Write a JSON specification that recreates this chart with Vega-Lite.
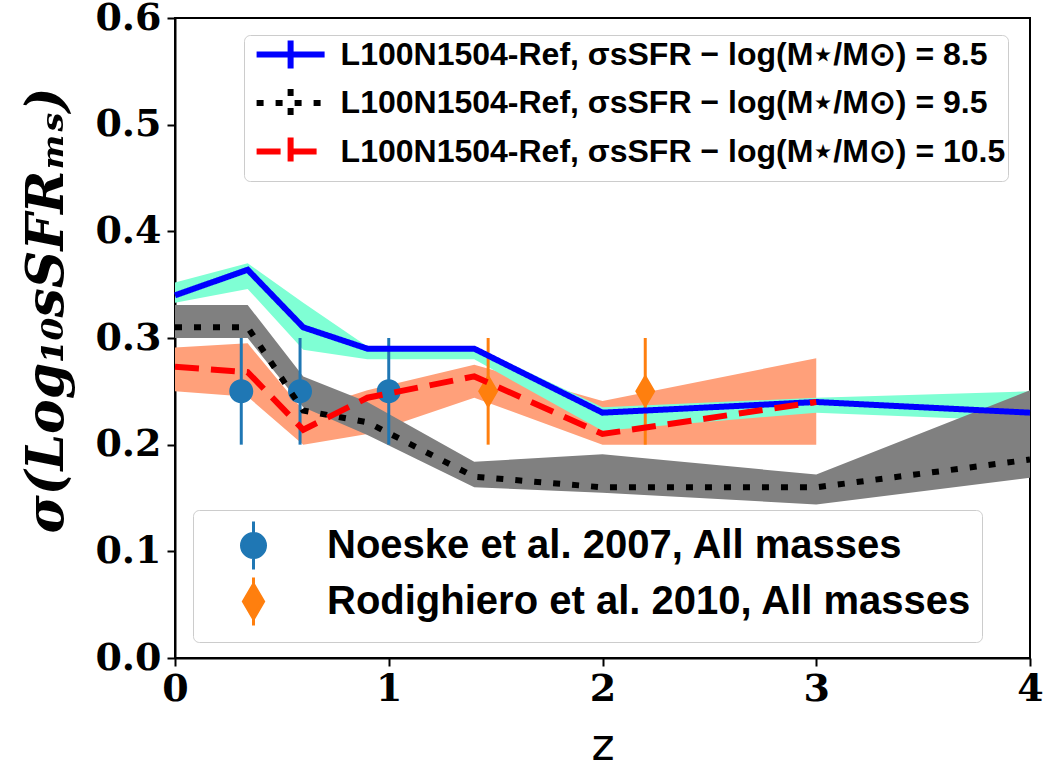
{
  "$schema": "https://vega.github.io/schema/vega-lite/v6.json",
  "width": 855,
  "height": 640,
  "autosize": {"type": "none"},
  "padding": {"left": 175, "top": 18, "right": 16, "bottom": 117},
  "background": "white",
  "config": {
    "view": {"stroke": "black", "strokeWidth": 2},
    "axis": {
      "grid": false,
      "domainColor": "black",
      "domainWidth": 2,
      "tickColor": "black",
      "tickWidth": 2,
      "tickSize": 8,
      "labelFlush": false,
      "labelFont": "DejaVu Serif",
      "labelFontWeight": "bold",
      "labelFontSize": 38,
      "labelColor": "black",
      "titleColor": "black"
    }
  },
  "datasets": {
    "bands": [
      {"band": "cyan", "z": 0.0, "lo": 0.333, "hi": 0.352},
      {"band": "cyan", "z": 0.34, "lo": 0.346, "hi": 0.37},
      {"band": "cyan", "z": 0.6, "lo": 0.289, "hi": 0.333},
      {"band": "cyan", "z": 0.9, "lo": 0.28, "hi": 0.292},
      {"band": "cyan", "z": 1.4, "lo": 0.28, "hi": 0.292},
      {"band": "cyan", "z": 2.0, "lo": 0.213, "hi": 0.235},
      {"band": "cyan", "z": 3.0, "lo": 0.23, "hi": 0.244},
      {"band": "cyan", "z": 4.0, "lo": 0.222, "hi": 0.25},
      {"band": "grey", "z": 0.0, "lo": 0.30, "hi": 0.331},
      {"band": "grey", "z": 0.34, "lo": 0.30, "hi": 0.331},
      {"band": "grey", "z": 0.6, "lo": 0.235, "hi": 0.264},
      {"band": "grey", "z": 0.9, "lo": 0.209, "hi": 0.24},
      {"band": "grey", "z": 1.4, "lo": 0.16, "hi": 0.184},
      {"band": "grey", "z": 2.0, "lo": 0.155, "hi": 0.191},
      {"band": "grey", "z": 3.0, "lo": 0.144, "hi": 0.172},
      {"band": "grey", "z": 4.0, "lo": 0.169, "hi": 0.251},
      {"band": "salmon", "z": 0.0, "lo": 0.25, "hi": 0.291},
      {"band": "salmon", "z": 0.34, "lo": 0.245, "hi": 0.295},
      {"band": "salmon", "z": 0.6, "lo": 0.2, "hi": 0.232},
      {"band": "salmon", "z": 0.9, "lo": 0.21, "hi": 0.251},
      {"band": "salmon", "z": 1.4, "lo": 0.244, "hi": 0.275},
      {"band": "salmon", "z": 2.0, "lo": 0.2, "hi": 0.241},
      {"band": "salmon", "z": 3.0, "lo": 0.2, "hi": 0.281}
    ],
    "lines": [
      {"series": "L100N1504-Ref, σsSFR − log(M⋆/M⊙) = 8.5", "z": 0.0, "s": 0.34},
      {"series": "L100N1504-Ref, σsSFR − log(M⋆/M⊙) = 8.5", "z": 0.34, "s": 0.364},
      {"series": "L100N1504-Ref, σsSFR − log(M⋆/M⊙) = 8.5", "z": 0.6, "s": 0.31},
      {"series": "L100N1504-Ref, σsSFR − log(M⋆/M⊙) = 8.5", "z": 0.9, "s": 0.29},
      {"series": "L100N1504-Ref, σsSFR − log(M⋆/M⊙) = 8.5", "z": 1.4, "s": 0.29},
      {"series": "L100N1504-Ref, σsSFR − log(M⋆/M⊙) = 8.5", "z": 2.0, "s": 0.23},
      {"series": "L100N1504-Ref, σsSFR − log(M⋆/M⊙) = 8.5", "z": 3.0, "s": 0.24},
      {"series": "L100N1504-Ref, σsSFR − log(M⋆/M⊙) = 8.5", "z": 4.0, "s": 0.23},
      {"series": "L100N1504-Ref, σsSFR − log(M⋆/M⊙) = 9.5", "z": 0.0, "s": 0.31},
      {"series": "L100N1504-Ref, σsSFR − log(M⋆/M⊙) = 9.5", "z": 0.34, "s": 0.31},
      {"series": "L100N1504-Ref, σsSFR − log(M⋆/M⊙) = 9.5", "z": 0.6, "s": 0.232},
      {"series": "L100N1504-Ref, σsSFR − log(M⋆/M⊙) = 9.5", "z": 0.9, "s": 0.221},
      {"series": "L100N1504-Ref, σsSFR − log(M⋆/M⊙) = 9.5", "z": 1.4, "s": 0.17},
      {"series": "L100N1504-Ref, σsSFR − log(M⋆/M⊙) = 9.5", "z": 2.0, "s": 0.16},
      {"series": "L100N1504-Ref, σsSFR − log(M⋆/M⊙) = 9.5", "z": 3.0, "s": 0.16},
      {"series": "L100N1504-Ref, σsSFR − log(M⋆/M⊙) = 9.5", "z": 4.0, "s": 0.186},
      {"series": "L100N1504-Ref, σsSFR − log(M⋆/M⊙) = 10.5", "z": 0.0, "s": 0.273},
      {"series": "L100N1504-Ref, σsSFR − log(M⋆/M⊙) = 10.5", "z": 0.34, "s": 0.268},
      {"series": "L100N1504-Ref, σsSFR − log(M⋆/M⊙) = 10.5", "z": 0.6, "s": 0.214},
      {"series": "L100N1504-Ref, σsSFR − log(M⋆/M⊙) = 10.5", "z": 0.9, "s": 0.244},
      {"series": "L100N1504-Ref, σsSFR − log(M⋆/M⊙) = 10.5", "z": 1.4, "s": 0.264},
      {"series": "L100N1504-Ref, σsSFR − log(M⋆/M⊙) = 10.5", "z": 2.0, "s": 0.21},
      {"series": "L100N1504-Ref, σsSFR − log(M⋆/M⊙) = 10.5", "z": 3.0, "s": 0.24}
    ],
    "obs": [
      {"source": "Noeske et al. 2007, All masses", "z": 0.31, "s": 0.25, "lo": 0.2, "hi": 0.3},
      {"source": "Noeske et al. 2007, All masses", "z": 0.585, "s": 0.25, "lo": 0.2, "hi": 0.3},
      {"source": "Noeske et al. 2007, All masses", "z": 1.0, "s": 0.25, "lo": 0.2, "hi": 0.3},
      {"source": "Rodighiero et al. 2010, All masses", "z": 1.465, "s": 0.25, "lo": 0.2, "hi": 0.3},
      {"source": "Rodighiero et al. 2010, All masses", "z": 2.2, "s": 0.25, "lo": 0.2, "hi": 0.3}
    ]
  },
  "layer": [
    {
      "data": {"name": "bands"},
      "transform": [{"filter": "datum.band === 'salmon'"}],
      "mark": {"type": "area", "color": "#ffa07a", "opacity": 1},
      "encoding": {
        "x": {"field": "z", "type": "quantitative", "scale": {"domain": [0, 4], "nice": false}, "axis": {"values": [0, 1, 2, 3, 4], "format": "d", "title": "z", "titleFont": "DejaVu Sans", "titleFontSize": 44, "titleFontWeight": "normal", "labelPadding": 4, "titlePadding": 16}},
        "y": {"field": "lo", "type": "quantitative", "scale": {"domain": [0, 0.6], "nice": false, "zero": false}, "axis": {"values": [0, 0.1, 0.2, 0.3, 0.4, 0.5, 0.6], "format": ".1f", "title": "σ(Log₁₀sSFRₘₛ)", "titleFont": "DejaVu Serif", "titleFontSize": 52, "titleFontWeight": "bold", "titleFontStyle": "italic", "titleY": 292, "labelPadding": 6, "titlePadding": 21}},
        "y2": {"field": "hi"}
      }
    },
    {
      "data": {"name": "bands"},
      "transform": [{"filter": "datum.band === 'cyan'"}],
      "mark": {"type": "area", "color": "#7fffd4", "opacity": 1},
      "encoding": {
        "x": {"field": "z", "type": "quantitative"},
        "y": {"field": "lo", "type": "quantitative"},
        "y2": {"field": "hi"}
      }
    },
    {
      "data": {"name": "bands"},
      "transform": [{"filter": "datum.band === 'grey'"}],
      "mark": {"type": "area", "color": "#808080", "opacity": 1},
      "encoding": {
        "x": {"field": "z", "type": "quantitative"},
        "y": {"field": "lo", "type": "quantitative"},
        "y2": {"field": "hi"}
      }
    },
    {
      "data": {"name": "obs"},
      "transform": [{"filter": "datum.source === 'Noeske et al. 2007, All masses'"}],
      "mark": {"type": "rule", "color": "#1f77b4", "strokeWidth": 3},
      "encoding": {
        "x": {"field": "z", "type": "quantitative"},
        "y": {"field": "lo", "type": "quantitative"},
        "y2": {"field": "hi"}
      }
    },
    {
      "data": {"name": "obs"},
      "transform": [{"filter": "datum.source === 'Rodighiero et al. 2010, All masses'"}],
      "mark": {"type": "rule", "color": "#ff7f0e", "strokeWidth": 3},
      "encoding": {
        "x": {"field": "z", "type": "quantitative"},
        "y": {"field": "lo", "type": "quantitative"},
        "y2": {"field": "hi"}
      }
    },
    {
      "data": {"name": "obs"},
      "mark": {"type": "point", "filled": true, "opacity": 1, "size": 2304},
      "encoding": {
        "x": {"field": "z", "type": "quantitative"},
        "y": {"field": "s", "type": "quantitative"},
        "fill": {"field": "source", "type": "nominal", "scale": {"domain": ["Noeske et al. 2007, All masses", "Rodighiero et al. 2010, All masses"], "range": ["#1f77b4", "#ff7f0e"]},
          "legend": {"title": null, "orient": "none", "legendX": 18, "legendY": 492, "padding": 10, "symbolOffset": 25, "labelOffset": 48, "rowPadding": -6, "symbolSize": 2304, "labelFont": "Liberation Sans", "labelFontWeight": "bold", "labelFontSize": 40, "labelColor": "black", "labelLimit": 900, "fillColor": "rgba(255,255,255,0.85)", "strokeColor": "#cccccc", "cornerRadius": 6, "symbolOpacity": 1,
            "encode": {"symbols": {"update": {"stroke": {"scale": "fill", "field": "value"}, "strokeWidth": {"value": 3}}}}}},
        "shape": {"field": "source", "type": "nominal", "scale": {"domain": ["Noeske et al. 2007, All masses", "Rodighiero et al. 2010, All masses"], "range": ["M0,-1V1M0.5,0A0.5,0.5,0,1,1,-0.5,0A0.5,0.5,0,1,1,0.5,0Z", "M0,-1V1M0,-0.72L0.42,0L0,0.72L-0.42,0Z"]}}
      }
    },
    {
      "data": {"name": "lines"},
      "transform": [{"filter": "indexof(datum.series, '= 8.5') >= 0"}],
      "mark": {"type": "line", "strokeWidth": 6, "strokeCap": "butt"},
      "encoding": {
        "x": {"field": "z", "type": "quantitative"},
        "y": {"field": "s", "type": "quantitative"},
        "stroke": {"field": "series", "type": "nominal",
          "scale": {"domain": ["L100N1504-Ref, σsSFR − log(M⋆/M⊙) = 8.5", "L100N1504-Ref, σsSFR − log(M⋆/M⊙) = 9.5", "L100N1504-Ref, σsSFR − log(M⋆/M⊙) = 10.5"], "range": ["#0000ff", "#000000", "#ff0000"]},
          "legend": {"title": null, "orient": "none", "legendX": 69, "legendY": 17, "padding": 2.5, "symbolOffset": 27.1, "labelOffset": 33, "rowPadding": -5.5, "symbolSize": 740, "symbolStrokeWidth": 6, "symbolType": "M-2.5,0H2.5M0,-1.03V1.03", "labelFont": "Liberation Sans", "labelFontWeight": "bold", "labelFontSize": 32, "labelColor": "black", "labelLimit": 900, "fillColor": "rgba(255,255,255,0.85)", "strokeColor": "#cccccc", "cornerRadius": 6}},
        "strokeDash": {"field": "series", "type": "nominal",
          "scale": {"domain": ["L100N1504-Ref, σsSFR − log(M⋆/M⊙) = 8.5", "L100N1504-Ref, σsSFR − log(M⋆/M⊙) = 9.5", "L100N1504-Ref, σsSFR − log(M⋆/M⊙) = 10.5"], "range": [[1, 0], [7, 12], [24, 12]]},
          "legend": {"title": null, "orient": "none", "legendX": 69, "legendY": 17, "padding": 2.5, "symbolOffset": 27.1, "labelOffset": 33, "rowPadding": -5.5, "symbolSize": 740, "symbolStrokeWidth": 6, "symbolType": "M-2.5,0H2.5M0,-1.03V1.03", "labelFont": "Liberation Sans", "labelFontWeight": "bold", "labelFontSize": 32, "labelColor": "black", "labelLimit": 900, "fillColor": "rgba(255,255,255,0.85)", "strokeColor": "#cccccc", "cornerRadius": 6}}
      }
    },
    {
      "data": {"name": "lines"},
      "transform": [{"filter": "indexof(datum.series, '= 9.5') >= 0"}],
      "mark": {"type": "line", "strokeWidth": 6, "strokeCap": "butt"},
      "encoding": {
        "x": {"field": "z", "type": "quantitative"},
        "y": {"field": "s", "type": "quantitative"},
        "stroke": {"field": "series", "type": "nominal"},
        "strokeDash": {"field": "series", "type": "nominal"}
      }
    },
    {
      "data": {"name": "lines"},
      "transform": [{"filter": "indexof(datum.series, '= 10.5') >= 0"}],
      "mark": {"type": "line", "strokeWidth": 6, "strokeCap": "butt"},
      "encoding": {
        "x": {"field": "z", "type": "quantitative"},
        "y": {"field": "s", "type": "quantitative"},
        "stroke": {"field": "series", "type": "nominal"},
        "strokeDash": {"field": "series", "type": "nominal"}
      }
    }
  ]
}
